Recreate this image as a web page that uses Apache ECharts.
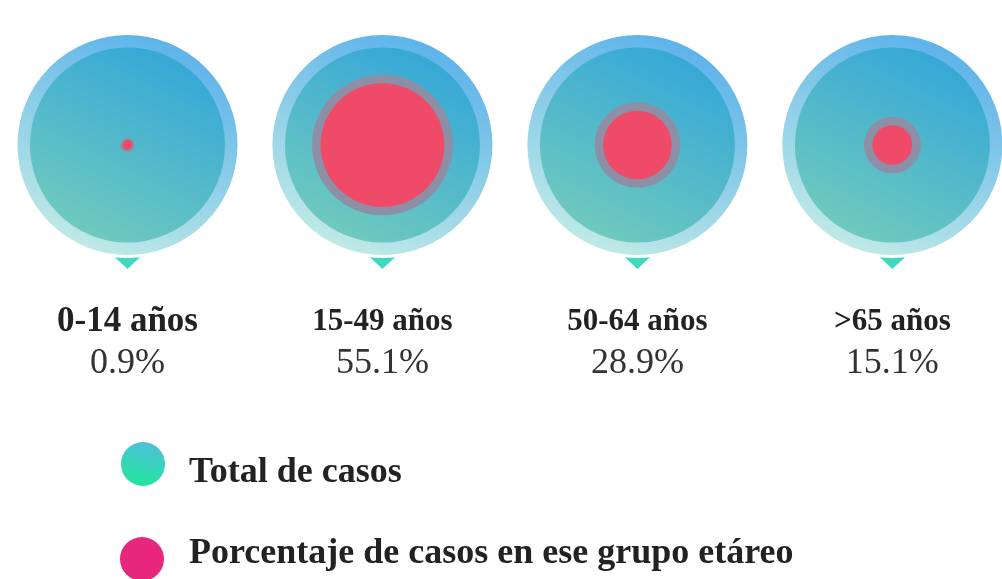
<!DOCTYPE html>
<html>
<head>
<meta charset="utf-8">
<script src="https://cdn.jsdelivr.net/npm/echarts@6/dist/echarts.min.js"></script>
<style>
html,body{margin:0;padding:0;background:#fff;}
#main{width:1002px;height:579px;}
</style>
</head>
<body>
<div id="main"></div>
<script>
// ---- data ----
const categories = ['0-14 años', '15-49 años', '50-64 años', '>65 años'];
const percentages = [0.9, 55.1, 28.9, 15.1];
const totalName = 'Total de casos';
const pctName = 'Porcentaje de casos en ese grupo etáreo';

// ---- build ----
const serif = '"Liberation Serif", "DejaVu Serif", serif';
const pts = percentages.map((p, i) => [i, 0, p]);
const redR = p => 4 + 1.05 * p;
const ringW = p => Math.min(8.5, 1.5 + 0.6 * p);
const grad = (c1, c2, x, y, x2, y2) => new echarts.graphic.LinearGradient(x, y, x2, y2, [
  { offset: 0, color: c1 }, { offset: 1, color: c2 }
]);

const chart = echarts.init(document.getElementById('main'), null, { renderer: 'canvas' });
chart.setOption({
  animation: false,
  backgroundColor: '#ffffff',
  grid: { left: 0, right: 0, top: 0, height: 290 },
  xAxis: { type: 'value', min: -0.5, max: 3.43, show: false },
  yAxis: { type: 'value', min: -1, max: 1, show: false },
  graphic: [
    { type: 'circle', shape: { cx: 143, cy: 464, r: 22 },
      style: { fill: grad('#4ec0da', '#22e59a', 0.6, 0, 0.4, 1) } },
    { type: 'text', left: 189, top: 455,
      style: { text: totalName, font: 'bold 36px ' + serif, fill: '#222' } },
    { type: 'circle', shape: { cx: 142, cy: 559, r: 22 },
      style: { fill: '#e6277c' } },
    { type: 'text', left: 189, top: 536,
      style: { text: pctName, font: 'bold 36px ' + serif, fill: '#222' } }
  ],
  series: [
    {
      name: 'pointer', type: 'scatter', z: 1, silent: true,
      symbol: 'path://M0,0 L40,0 L20,24 Z',
      symbolSize: [60, 28], symbolOffset: [0, 110],
      itemStyle: { color: '#40d8c3', opacity: 1 },
      data: pts
    },
    {
      name: 'outer', type: 'scatter', z: 2, silent: true,
      symbolSize: 223,
      itemStyle: {
        color: grad('#58b0ea', '#c4ece6', 0.7, 0, 0.3, 1),
        borderColor: '#ffffff', borderWidth: 3, opacity: 1
      },
      label: {
        show: true, position: 'bottom', distance: 43,
        formatter: p => (p.dataIndex === 0 ? '{a0|' : '{a|') + categories[p.dataIndex] + '}\n{b|' + p.value[2].toFixed(1) + '%}',
        rich: {
          a0: { fontFamily: serif, fontWeight: 'bold', fontSize: 35, color: '#222', lineHeight: 42 },
          a: { fontFamily: serif, fontWeight: 'bold', fontSize: 31, color: '#222', lineHeight: 42 },
          b: { fontFamily: serif, fontSize: 36, color: '#333', lineHeight: 42 }
        }
      },
      data: pts
    },
    {
      name: totalName, type: 'scatter', z: 3, silent: true,
      symbolSize: 195,
      itemStyle: { color: grad('#33a6d9', '#72cbbc', 0.75, 0, 0.25, 1), opacity: 1 },
      data: pts
    },
    {
      name: 'ring', type: 'scatter', z: 4, silent: true,
      symbolSize: v => 2 * (redR(v[2]) + ringW(v[2])),
      itemStyle: { color: '#8c8fa5', opacity: 1 },
      data: pts
    },
    {
      name: pctName, type: 'scatter', z: 5, silent: true,
      symbolSize: v => 2 * redR(v[2]),
      itemStyle: { color: '#ef4a67', opacity: 1 },
      data: pts
    }
  ]
});
</script>
</body>
</html>
